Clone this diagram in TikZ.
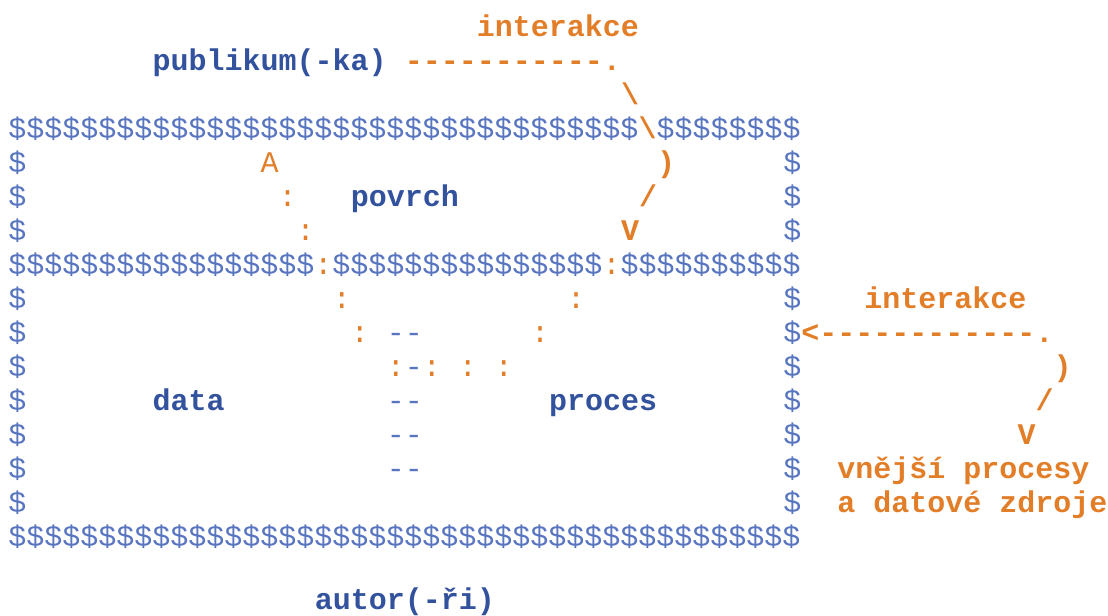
\documentclass[tikz,border=0pt]{standalone}
\usepackage{fontspec}
\setmonofont{Liberation Mono}
\usepackage{tikz}

\definecolor{wallblue}{RGB}{88,118,192}
\definecolor{wordblue}{RGB}{50,82,158}
\definecolor{linkorange}{RGB}{226,125,40}

\begin{document}
\begin{tikzpicture}[x=9.01pt, y=-17pt,
    every node/.style={anchor=base west, inner sep=0pt, font=\ttfamily\fontsize{15}{17}\selectfont},
    wall/.style={text=wallblue},
    word/.style={text=wordblue, font=\ttfamily\bfseries\fontsize{15}{17}\selectfont},
    link/.style={text=linkorange, font=\ttfamily\bfseries\fontsize{15}{17}\selectfont},
    dots/.style={text=linkorange}]
    \useasboundingbox (-0.444,-1.08) rectangle (61.04,17.008);

    % publikum and its interaction path into the surface
    \node[link] at (26,0) (int1) {interakce};
    \node[word] at (8,1) (pub) {publikum(-ka)};
    \node[link] at (22,1) (pubdash) {-----------.};
    \node[link] at (34,2) (pubbend) {\textbackslash};

    % outer walls and the surface/inside split
    \node[wall] at (0,3) (roof) {\$\$\$\$\$\$\$\$\$\$\$\$\$\$\$\$\$\$\$\$\$\$\$\$\$\$\$\$\$\$\$\$\$\$\$\textcolor{linkorange}{\bfseries\textbackslash}\$\$\$\$\$\$\$\$};
    \node[wall] at (0,7) (split) {\$\$\$\$\$\$\$\$\$\$\$\$\$\$\$\$\$\textcolor{linkorange}{:}\$\$\$\$\$\$\$\$\$\$\$\$\$\$\$\textcolor{linkorange}{:}\$\$\$\$\$\$\$\$\$\$};
    \node[wall] at (0,15) (floor) {\$\$\$\$\$\$\$\$\$\$\$\$\$\$\$\$\$\$\$\$\$\$\$\$\$\$\$\$\$\$\$\$\$\$\$\$\$\$\$\$\$\$\$\$};
    \foreach \r in {4,5,6,8,9,10,11,12,13,14} {
        \node[wall] at (0,\r) (lw\r) {\$};
        \node[wall] at (43,\r) (rw\r) {\$};
    }

    % surface layer
    \node[dots] at (14,4) (up) {A};
    \node[link] at (36,4) (pubcurve) {)};
    \node[dots] at (15,5) (c5) {:};
    \node[word] at (19,5) (povrch) {povrch};
    \node[link] at (35,5) (pubslash) {/};
    \node[dots] at (16,6) (c6) {:};
    \node[link] at (34,6) (pubtip) {V};

    % inside: data and proces
    \node[dots] at (18,8) (c8a) {:};
    \node[dots] at (31,8) (c8b) {:};
    \node[dots] at (19,9) (c9a) {:};
    \node[wall] at (21,9) (bar9) {-{}-};
    \node[dots] at (29,9) (c9b) {:};
    \node[dots] at (21,10) (c10a) {:};
    \node[wall] at (22,10) (bar10) {-};
    \node[dots] at (23,10) (c10b) {:};
    \node[dots] at (25,10) (c10c) {:};
    \node[dots] at (27,10) (c10d) {:};
    \node[word] at (8,11) (data) {data};
    \node[wall] at (21,11) (bar11) {-{}-};
    \node[word] at (30,11) (proces) {proces};
    \node[wall] at (21,12) (bar12) {-{}-};
    \node[wall] at (21,13) (bar13) {-{}-};

    % outside processes and data sources
    \node[link] at (47.5,8) (int2) {interakce};
    \node[link] at (44,9) (extdash) {<------------.};
    \node[link] at (58,10) (extcurve) {)};
    \node[link] at (57,11) (extslash) {/};
    \node[link] at (56,12) (exttip) {V};
    \node[link] at (46,13) (ext1) {vnější procesy};
    \node[link] at (46,14) (ext2) {a datové zdroje};

    \node[word] at (17,16.85) (autor) {autor(-ři)};
\end{tikzpicture}
\end{document}
